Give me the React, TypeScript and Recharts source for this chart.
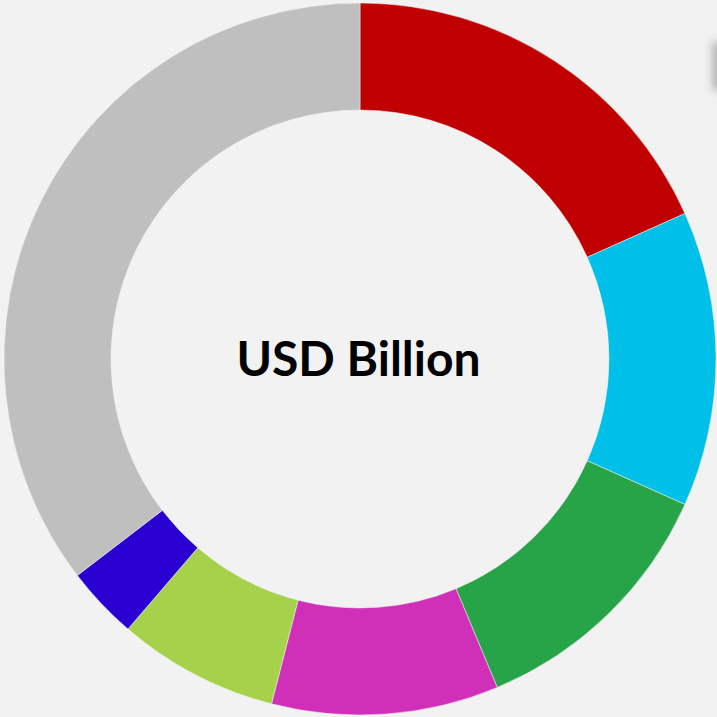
import React from "react";
import { PieChart, Pie, Cell, Label } from "recharts";

const categories = ["Red", "Cyan", "Green", "Magenta", "Light Green", "Blue", "Grey"];
const values = [18.3, 13.4, 12.0, 10.3, 7.3, 3.3, 35.4];
const colors = ["#C00000", "#00BFE8", "#28A448", "#D02FB8", "#A5D24A", "#2A00D2", "#BFBFBF"];
const centerTitle = "USD Billion";

const data = categories.map((name, i) => ({ name, value: values[i] }));

export default function App() {
  return (
    <div
      style={{
        position: "fixed",
        left: 0,
        top: 0,
        width: 717,
        height: 717,
        background: "#F2F2F2",
        overflow: "hidden",
      }}
    >
      <div
        style={{
          position: "absolute",
          left: 713,
          top: 42,
          width: 10,
          height: 48,
          background: "#a8a8a8",
          filter: "blur(5px)",
        }}
      />
      <div style={{ position: "absolute", left: 0, top: 0 }}>
        <PieChart width={717} height={717} margin={{ top: 0, right: 0, bottom: 0, left: 0 }}>
          <Pie
            data={data}
            dataKey="value"
            nameKey="name"
            cx={360}
            cy={359}
            innerRadius={249}
            outerRadius={356}
            startAngle={90}
            endAngle={-270}
            stroke="#F2F2F2"
            strokeWidth={0.5}
            isAnimationActive={false}
          >
            {data.map((d, i) => (
              <Cell key={d.name} fill={colors[i]} />
            ))}
            <Label
              value={centerTitle}
              position="center"
              fill="#000000"
              style={{ fontFamily: "Lato, 'Open Sans', sans-serif", fontWeight: 700, fontSize: 48 }}
            />
          </Pie>
        </PieChart>
      </div>
    </div>
  );
}
